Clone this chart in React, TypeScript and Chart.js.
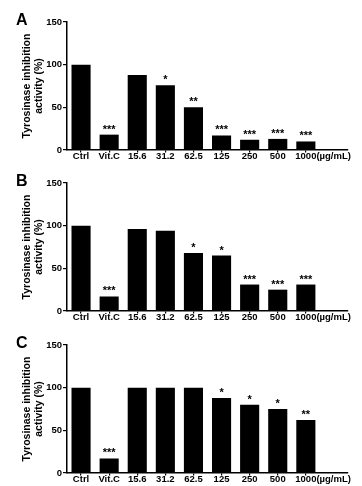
import React, { useEffect, useRef } from 'react';
import { Chart, registerables } from 'chart.js';
Chart.register(...registerables);

const categories = ['Ctrl', 'Vit.C', '15.6', '31.2', '62.5', '125', '250', '500', '1000'];
const unitLabel = '(µg/mL)';
const yTickValues = [0, 50, 100, 150];
const yTitle = ['Tyrosinase inhibition', 'activity (%)'];

const valuesA = [100, 18, 88, 76, 50, 17, 12, 13, 10];
const valuesB = [100, 17, 96, 94, 68, 65, 31, 25, 31];
const valuesC = [100, 17, 100, 100, 100, 88, 80, 75, 62];

const starsA = ['', '***', '', '*', '**', '***', '***', '***', '***'];
const starsB = ['', '***', '', '', '*', '*', '***', '***', '***'];
const starsC = ['', '***', '', '', '', '*', '*', '*', '**'];

const panels = [
  { letter: 'A', values: valuesA, stars: starsA, top: 0, height: 162 },
  { letter: 'B', values: valuesB, stars: starsB, top: 161, height: 162 },
  { letter: 'C', values: valuesC, stars: starsC, top: 323, height: 163 },
];

const FONT = '"Liberation Sans", Arial, Helvetica, sans-serif';

function Panel({ letter, values, stars, height }: any) {
  const ref = useRef<HTMLCanvasElement>(null);
  useEffect(() => {
    const canvas = ref.current!;
    const textPlugin = {
      id: 'panelText',
      afterDraw(chart: any) {
        const ctx = chart.ctx;
        const x = chart.scales.x;
        const y = chart.scales.y;
        const area = chart.chartArea;
        ctx.save();
        ctx.fillStyle = '#000';
        // panel letter
        ctx.font = `bold 16px ${FONT}`;
        ctx.textAlign = 'left';
        ctx.textBaseline = 'alphabetic';
        ctx.fillText(letter, 16, 24.5);
        // y title
        ctx.font = `bold 10.5px ${FONT}`;
        ctx.textAlign = 'center';
        ctx.textBaseline = 'middle';
        const cy = (area.top + area.bottom) / 2;
        yTitle.forEach((t, i) => {
          ctx.save();
          ctx.translate(27 + i * 12.5, cy);
          ctx.rotate(-Math.PI / 2);
          ctx.fillText(t, 0, 0);
          ctx.restore();
        });
        // x labels
        ctx.font = `bold 9.5px ${FONT}`;
        ctx.textBaseline = 'middle';
        const ly = area.bottom + 6.5;
        categories.forEach((c, i) => {
          const px = x.getPixelForValue(i);
          ctx.textAlign = 'center';
          ctx.fillText(c, px, ly);
          if (i === categories.length - 1) {
            const w = ctx.measureText(c).width;
            ctx.textAlign = 'left';
            ctx.fillText(unitLabel, px + w / 2, ly);
          }
        });
        // stars
        ctx.font = `bold 11px ${FONT}`;
        ctx.textAlign = 'center';
        ctx.textBaseline = 'alphabetic';
        stars.forEach((s: string, i: number) => {
          if (!s) return;
          ctx.fillText(s, x.getPixelForValue(i), y.getPixelForValue(values[i]) - 2);
        });
        ctx.restore();
      },
    };
    const chart = new Chart(canvas, {
      type: 'bar',
      data: {
        labels: [...categories, ''],
        datasets: [
          {
            data: values,
            backgroundColor: '#000',
            borderWidth: 0,
            barPercentage: 0.68,
            categoryPercentage: 1,
          },
        ],
      },
      options: {
        animation: false,
        responsive: false,
        layout: { padding: { top: 22, bottom: height - 150, left: 0, right: 14 } },
        plugins: { legend: { display: false }, tooltip: { enabled: false } },
        scales: {
          x: {
            grid: {
              display: true,
              offset: false,
              drawOnChartArea: false,
              drawTicks: true,
              tickLength: 2.5,
              lineWidth: 1.2,
              color: (c: any) => (c.index < categories.length ? '#000' : 'rgba(0,0,0,0)'),
            },
            border: { display: true, color: '#000', width: 1.5 },
            ticks: { display: false },
            afterFit: (s: any) => {
              s.height = 0;
            },
          },
          y: {
            min: 0,
            max: 150,
            afterBuildTicks: (s: any) => {
              s.ticks = yTickValues.map((v) => ({ value: v }));
            },
            grid: {
              display: true,
              drawOnChartArea: false,
              drawTicks: true,
              tickLength: 4,
              color: '#000',
              lineWidth: 1.2,
            },
            border: { display: true, color: '#000', width: 1.5 },
            ticks: {
              color: '#000',
              padding: 1,
              font: { family: FONT, size: 9.5, weight: 'bold' },
            },
            afterFit: (s: any) => {
              s.width = 67;
            },
          },
        },
      } as any,
      plugins: [textPlugin],
    });
    return () => chart.destroy();
  }, []);
  return <canvas ref={ref} width={362} height={height} style={{ display: 'block' }} />;
}

export default function App() {
  return (
    <div style={{ position: 'fixed', left: 0, top: 0, width: 362, height: 486, background: '#fff' }}>
      {panels.map((p) => (
        <div key={p.letter} style={{ position: 'absolute', left: 0, top: p.top }}>
          <Panel {...p} />
        </div>
      ))}
    </div>
  );
}
